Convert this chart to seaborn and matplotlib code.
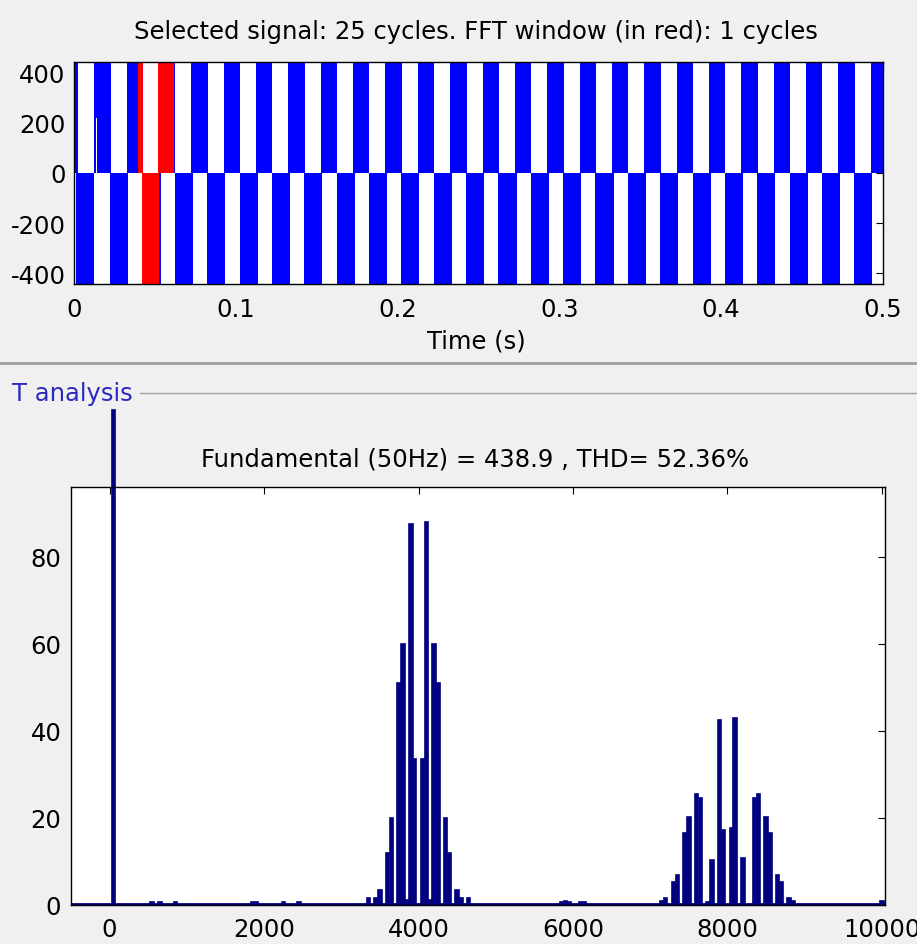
import matplotlib
matplotlib.use('Agg')
import matplotlib.pyplot as plt
from matplotlib.lines import Line2D
import seaborn as sns
import pandas as pd

sns.set_style('white')
plt.rcParams['font.family'] = ['DejaVu Sans']
plt.rcParams['font.size'] = 17.5
plt.rcParams['axes.unicode_minus'] = False
plt.rcParams['text.color'] = 'black'
plt.rcParams['xtick.color'] = 'black'
plt.rcParams['ytick.color'] = 'black'

# ---- selected signal (PWM, switching too dense to resolve -> solid half-cycles) ----
V_PEAK = 443
POS_WIDTH = 0.0101   # visible width of a positive half-cycle block (s)
NEG_WIDTH = 0.0112   # visible width of a negative half-cycle block (s)
pos_half_starts = [-0.0075, 0.0125, 0.0325, 0.0525, 0.0725, 0.0925, 0.1125, 0.1325,
                   0.1525, 0.1725, 0.1925, 0.2125, 0.2325, 0.2525, 0.2725, 0.2925,
                   0.3125, 0.3325, 0.3525, 0.3725, 0.3925, 0.4125, 0.4325, 0.4525,
                   0.4725, 0.4925]
neg_half_starts = [0.0013, 0.0223, 0.0423, 0.0623, 0.0823, 0.1023, 0.1223, 0.1423,
                   0.1623, 0.1823, 0.2023, 0.2223, 0.2423, 0.2623, 0.2823, 0.3023,
                   0.3223, 0.3423, 0.3623, 0.3823, 0.4023, 0.4223, 0.4423, 0.4623,
                   0.4823]
# FFT window 0.04 .. 0.06 s drawn in red
red_pos_spans = [(0.0398, 0.0426), (0.0517, 0.0616)]
red_neg_spans = [(0.0420, 0.0523)]
# short notch seen in the first positive half-cycle
notch_t, notch_v = 0.0141, 218

# ---- FFT spectrum, % of fundamental ----
freq_hz = [50, 550, 650, 850, 1850, 1900, 2250, 2450,
           3350, 3450, 3500, 3600, 3650, 3750, 3800, 3850, 3900, 3950,
           4050, 4100, 4150, 4200, 4250, 4350, 4400, 4500, 4550, 4650,
           5850, 5900, 5950, 6100, 6150,
           7150, 7200, 7300, 7350, 7450, 7500, 7600, 7650, 7750, 7800, 7900, 7950,
           8050, 8100, 8200, 8350, 8400, 8500, 8550, 8650, 8700, 8800, 8850, 10000]
mag_pct = [113.8, 0.6, 0.6, 0.6, 0.7, 0.6, 0.6, 0.6,
           1.5, 1.5, 3.5, 12.0, 20.0, 51.0, 60.0, 1.2, 87.5, 33.5,
           33.5, 88.0, 1.2, 60.0, 51.0, 20.0, 12.0, 3.5, 1.5, 1.5,
           0.6, 0.8, 0.6, 0.6, 0.6,
           1.0, 1.5, 5.2, 6.9, 16.6, 20.2, 25.4, 24.5, 0.6, 10.4, 42.4, 17.3,
           17.8, 42.9, 10.9, 24.5, 25.4, 20.2, 16.6, 6.9, 5.2, 1.5, 0.8, 1.0]

BLUE = '#0000FF'
RED = '#FF0000'
NAVY = '#000080'
BG = '#F0F0F0'

fig = plt.figure(figsize=(9.17, 9.45), dpi=100, facecolor=BG)

# ---------------- top: signal ----------------
ax1 = fig.add_axes([0.0807, 0.6984, 0.8822, 0.2353])
ax1.set_facecolor('white')
ax1.bar(pos_half_starts, V_PEAK, width=POS_WIDTH, align='edge', color=BLUE, linewidth=0)
ax1.bar(neg_half_starts, -V_PEAK, width=NEG_WIDTH, align='edge', color=BLUE, linewidth=0)
for a, b in red_pos_spans:
    ax1.bar(a, V_PEAK, width=b - a, align='edge', color=RED, linewidth=0)
for a, b in red_neg_spans:
    ax1.bar(a, -V_PEAK, width=b - a, align='edge', color=RED, linewidth=0)
ax1.bar(notch_t, notch_v, width=0.0007, align='center', color='white', linewidth=0)
ax1.set_xlim(0, 0.5)
ax1.set_ylim(-V_PEAK, V_PEAK)
ax1.set_xticks([0, 0.1, 0.2, 0.3, 0.4, 0.5])
ax1.set_xticklabels(['0', '0.1', '0.2', '0.3', '0.4', '0.5'])
ax1.set_yticks([-400, -200, 0, 200, 400])
ax1.tick_params(axis='x', direction='in', top=True, length=5, pad=9)
ax1.tick_params(axis='y', direction='in', right=True, length=5, pad=6)

fig.text(0.519, 0.966, 'Selected signal: 25 cycles. FFT window (in red): 1 cycles',
         ha='center', va='center')
fig.text(0.519, 0.639, 'Time (s)', ha='center', va='center')

# separators between panels
fig.add_artist(Line2D([0, 1], [1 - 364 / 945] * 2, transform=fig.transFigure,
                      color='#A0A0A0', lw=2))
fig.add_artist(Line2D([140 / 917, 1], [1 - 394 / 945] * 2, transform=fig.transFigure,
                      color='#A0A0A0', lw=1))
fig.text(12 / 917, 1 - 394 / 945, 'T analysis', color='#2A2AC0', ha='left', va='center')

# ---------------- bottom: spectrum ----------------
ax2 = fig.add_axes([0.0774, 0.0413, 0.8877, 0.4420])
ax2.set_facecolor('white')
spec = pd.DataFrame({'freq': freq_hz, 'mag': mag_pct})
sns.barplot(data=spec, x='freq', y='mag', native_scale=True, errorbar=None,
            color=NAVY, saturation=1, width=0.9, edgecolor=NAVY, linewidth=1.2, ax=ax2)
ax2.set_xlim(-500, 10040)
ax2.set_ylim(0, 96)
for p in ax2.patches:
    if p.get_height() > 96:
        p.set_clip_on(False)
ax2.axhline(0.25, color=NAVY, lw=2, zorder=1)
ax2.set_xticks([0, 2000, 4000, 6000, 8000, 10000])
ax2.set_xticklabels(['0', '2000', '4000', '6000', '8000', '10000'])
ax2.set_yticks([0, 20, 40, 60, 80])
ax2.set_xlabel('')
ax2.set_ylabel('')
ax2.tick_params(axis='x', direction='in', top=True, length=5, pad=9)
ax2.tick_params(axis='y', direction='in', right=True, length=5, pad=7)

fig.text(0.518, 1 - 460 / 945, 'Fundamental (50Hz) = 438.9 , THD= 52.36%',
         ha='center', va='center')

for ax in (ax1, ax2):
    for s in ax.spines.values():
        s.set_color('black')
        s.set_linewidth(1)

fig.savefig('out.png', dpi=100, facecolor=BG)
